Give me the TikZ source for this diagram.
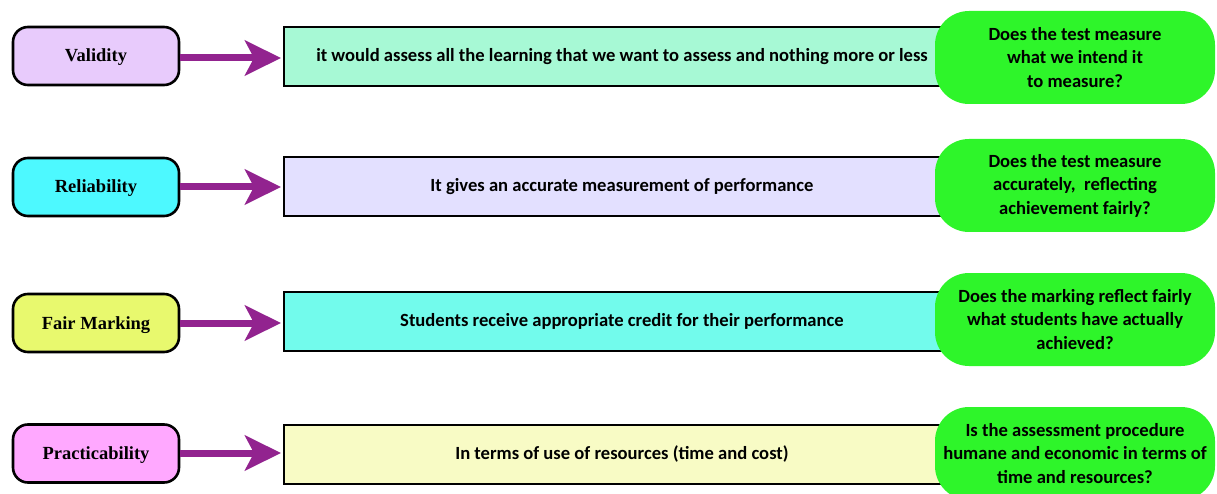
\documentclass[tikz,border=0pt]{standalone}
\usepackage{fontspec}
\setmainfont{Carlito}
\newfontfamily\tnr{Liberation Serif}
\usetikzlibrary{arrows.meta}
\definecolor{cVal}{HTML}{E8CBFC}
\definecolor{cRel}{HTML}{4DF9FF}
\definecolor{cFair}{HTML}{E8F96E}
\definecolor{cPrac}{HTML}{FFA8FF}
\definecolor{mVal}{HTML}{A7F9D5}
\definecolor{mRel}{HTML}{E3E0FF}
\definecolor{mFair}{HTML}{72FBEC}
\definecolor{mPrac}{HTML}{F8FBC5}
\definecolor{qgreen}{HTML}{2EF52A}
\definecolor{arrowc}{HTML}{92238F}
\tikzset{
  x=1pt, y=-1pt,
  labelbox/.style={draw=black, line width=2.6pt, rounded corners=15pt, minimum width=166pt, minimum height=58pt, inner sep=0pt, text height=13pt, text depth=1pt, font=\tnr\bfseries\fontsize{18.5}{21}\selectfont},
  descbox/.style={draw=black, line width=2pt, minimum width=676pt, minimum height=59pt, inner sep=0pt, font=\bfseries\fontsize{18.6}{22}\selectfont},
  qbox/.style={fill=qgreen, rounded corners=34pt, minimum width=280pt, minimum height=93pt, inner sep=0pt, align=center, font=\bfseries\fontsize{18.6}{23.5}\selectfont},
  linkarrow/.style={draw=arrowc, line width=7pt, -{Stealth[length=36pt, width=35pt, inset=9pt]}, shorten >=2pt}
}
\begin{document}
\begin{tikzpicture}
\useasboundingbox (0,0) rectangle (1217,494);
% row 1
\node[labelbox, fill=cVal] (l1) at (96,56) {Validity};
\node[descbox, fill=mVal] (m1) at (622,56.5) {it would assess all the learning that we want to assess and nothing more or less};
\node[qbox] (q1) at (1075,57.5) {Does the test measure\\what we intend it\\to measure?};
\draw[linkarrow] (l1.east |- 0,58) -- (m1.west |- 0,58);
% row 2
\node[labelbox, fill=cRel] (l2) at (96,187) {Reliability};
\node[descbox, fill=mRel] (m2) at (622,187) {It gives an accurate measurement of performance};
\node[qbox] (q2) at (1075,185.5) {Does the test measure\\accurately,\ \ reflecting\\achievement fairly?};
\draw[linkarrow] (l2.east) -- (m2.west);
% row 3
\node[labelbox, fill=cFair] (l3) at (96,323) {Fair Marking};
\node[descbox, fill=mFair] (m3) at (622,321) {Students receive appropriate credit for their performance};
\node[qbox] (q3) at (1075,319.5) {Does the marking reflect fairly\\what students have actually\\achieved?};
\draw[linkarrow] (l3.east |- 0,323) -- (m3.west |- 0,323);
% row 4
\node[labelbox, fill=cPrac] (l4) at (96,453.5) {Practicability};
\node[descbox, fill=mPrac] (m4) at (622,454) {In terms of use of resources (time and cost)};
\node[qbox] (q4) at (1075,453.5) {Is the assessment procedure\\humane and economic in terms of\\time and resources?};
\draw[linkarrow] (l4.east |- 0,453) -- (m4.west |- 0,453);
\end{tikzpicture}
\end{document}
